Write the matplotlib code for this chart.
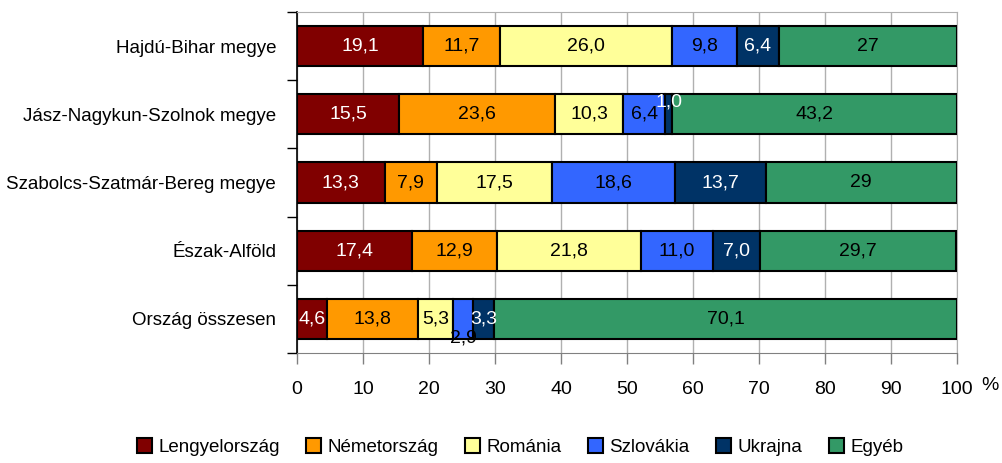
import numpy as np
import matplotlib.pyplot as plt
from matplotlib import font_manager

fams = [f.name for f in font_manager.fontManager.ttflist]
if 'Liberation Sans Narrow' in fams:
    plt.rcParams['font.family'] = ['Liberation Sans Narrow', 'DejaVu Sans']
else:
    plt.rcParams['font.family'] = ['Liberation Sans', 'DejaVu Sans']

# data, top row first
regions = ['Hajdú-Bihar megye', 'Jász-Nagykun-Szolnok megye',
           'Szabolcs-Szatmár-Bereg megye', 'Észak-Alföld', 'Ország összesen']
countries = ['Lengyelország', 'Németország', 'Románia', 'Szlovákia', 'Ukrajna', 'Egyéb']
lengyel = [19.1, 15.5, 13.3, 17.4, 4.6]
nemet = [11.7, 23.6, 7.9, 12.9, 13.8]
roman = [26.0, 10.3, 17.5, 21.8, 5.3]
szlovak = [9.8, 6.4, 18.6, 11.0, 2.9]
ukran = [6.4, 1.0, 13.7, 7.0, 3.3]
egyeb = [27, 43.2, 29, 29.7, 70.1]
# labels as printed on the chart
egyeb_labels = ['27', '43,2', '29', '29,7', '70,1']

series = [lengyel, nemet, roman, szlovak, ukran, egyeb]
colors = ['#800000', '#FF9900', '#FFFF99', '#3366FF', '#003366', '#339966']
txtcol = ['white', 'black', 'black', 'black', 'white', 'black']

fig = plt.figure(figsize=(10.03, 4.63), dpi=100)
ax = fig.add_axes([297/1003, 1 - 353/463, 660/1003, 341/463])

y = np.arange(len(regions))[::-1]
left = np.zeros(len(regions))
fs = 14
for k, vals in enumerate(series):
    vals = np.array(vals, dtype=float)
    ax.barh(y, vals, left=left, height=0.59, color=colors[k],
            edgecolor='black', linewidth=1.5, label=countries[k], zorder=3)
    for i, v in enumerate(vals):
        lab = egyeb_labels[i] if k == 5 else ('%.1f' % v).replace('.', ',')
        cx = left[i] + v / 2
        cy = y[i]
        col = txtcol[k]
        # small segments got shifted labels in the original
        if k == 4 and i == 1:
            cy = y[i] + 0.18
            col = 'white'
        if k == 3 and i == 4:
            cy = y[i] - 0.28
        ax.text(cx, cy, lab, ha='center', va='center', color=col,
                fontsize=fs, zorder=5)
    left += vals

ax.set_xlim(0, 100)
ax.set_ylim(-0.5, len(regions) - 0.5)
ax.set_xticks(np.arange(0, 101, 10))
ax.set_yticks(np.arange(-0.5, len(regions), 1), minor=False)
ax.set_yticklabels([])
ax.set_yticks(y, minor=True)
ax.set_yticklabels(regions, minor=True, fontsize=13.5)
ax.tick_params(axis='y', which='minor', length=0, pad=15)
ax.tick_params(axis='y', which='major', length=7, width=1, color='black')
ax.tick_params(axis='x', length=8, width=1, color='#808080', labelsize=fs, pad=12)
ax.grid(axis='x', color='#B0B0B0', linewidth=1, zorder=0)
for s in ['top', 'right']:
    ax.spines[s].set_color('#B0B0B0')
ax.spines['bottom'].set_color('#808080')
ax.spines['left'].set_color('black')
ax.spines['left'].set_linewidth(1.2)

fig.text(990/1003, 1 - 385/463, '%', ha='center', va='center', fontsize=fs)

ax.legend(loc='center', bbox_to_anchor=(520/1003, 1 - 447/463),
          bbox_transform=fig.transFigure, ncol=6, frameon=False,
          fontsize=13.5, handlelength=0.8, handleheight=0.8,
          handletextpad=0.35, columnspacing=1.4)

fig.savefig('out.png', dpi=100)
